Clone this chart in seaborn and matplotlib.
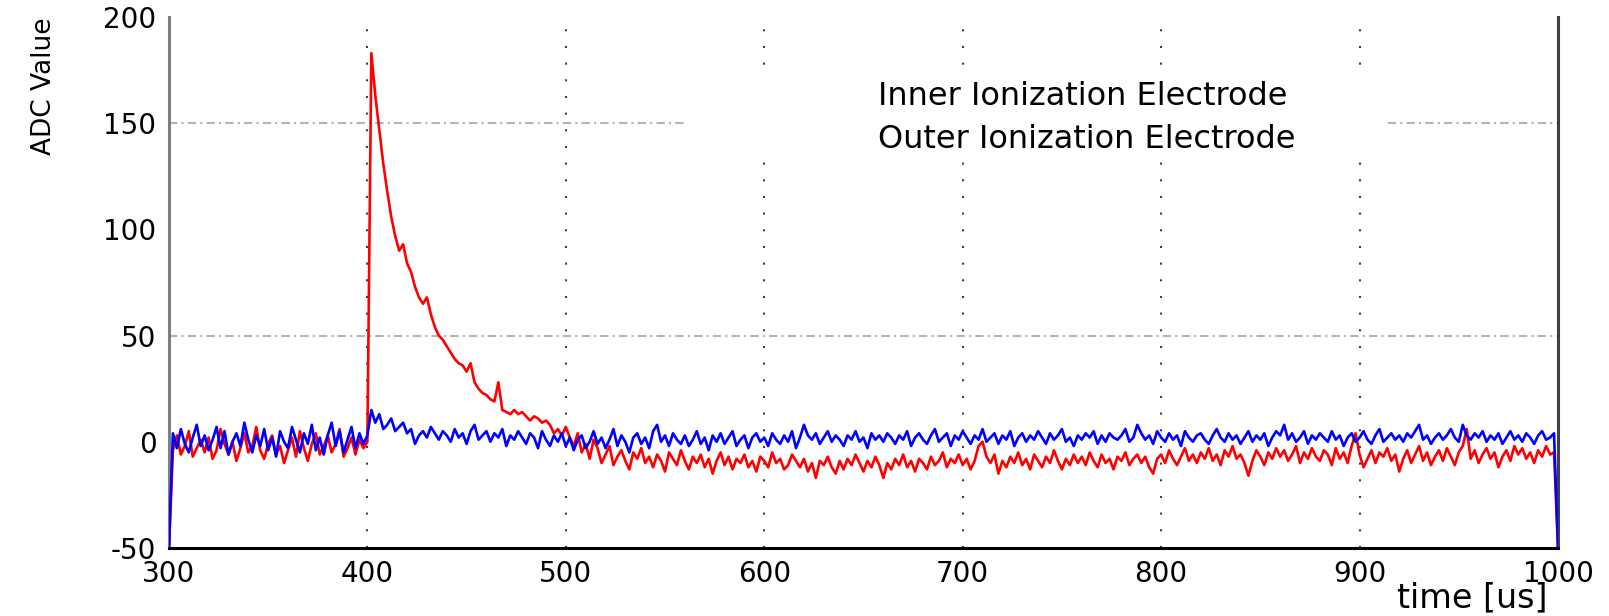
import numpy as np
import pandas as pd
import matplotlib
matplotlib.use("Agg")
import matplotlib.pyplot as plt
from matplotlib.patches import Rectangle
from matplotlib.ticker import MultipleLocator
import seaborn as sns

# Sampling grid of the digitiser (2 us per sample)
time_us = np.arange(300, 1001, 2)

# Inner ionization electrode trace (ADC counts)
inner_adc = [
    -50, -4, 3, -6, -2, 5, -7, -3, 1, -5,
    2, -8, -4, 6, -1, -6, 0, -9, -3, 4,
    -5, -2, 7, -4, -8, -1, 3, -6, -2, -10,
    -4, 2, -7, 5, -3, -9, -1, 4, -6, -2,
    3, -5, -1, 6, -7, -3, 2, -6, 1, -3,
    0, 183, 163, 147, 131, 118, 106, 97, 90, 93,
    84, 80, 73, 68, 65, 68, 60, 54, 50, 48,
    45, 42, 39, 37, 36, 33, 37, 28, 25, 23,
    22, 20, 19, 28, 15, 14, 13, 15, 13, 14,
    12, 10, 12, 11, 9, 10, 8, 4, 6, 3,
    7, 2, -2, 4, -5, -1, -8, 1, -3, -10,
    -6, -2, -11, -7, -4, -9, -13, -5, -8, -3,
    -10, -7, -12, -6, -9, -14, -5, -8, -11, -4,
    -9, -13, -7, -10, -6, -12, -8, -15, -9, -5,
    -11, -7, -13, -8, -10, -6, -12, -9, -14, -7,
    -9, -12, -5, -10, -8, -13, -11, -6, -9, -12,
    -8, -14, -10, -17, -9, -11, -7, -12, -15, -9,
    -13, -8, -11, -6, -10, -14, -9, -12, -7, -11,
    -17, -10, -13, -8, -11, -6, -12, -9, -14, -8,
    -10, -13, -7, -11, -9, -5, -12, -8, -10, -6,
    -11, -8, -13, -9, -2, 0, -7, -10, -6, -15,
    -9, -12, -7, -10, -5, -11, -8, -13, -6, -9,
    -12, -7, -10, -4, -9, -13, -8, -11, -6, -10,
    -7, -11, -5, -9, -12, -6, -10, -8, -13, -7,
    -9, -5, -11, -8, -6, -10, -7, -12, -15, -8,
    -6, -10, -4, -8, -11, -7, -3, -9, -6, -10,
    -5, -8, -3, -9, -6, -11, -4, -7, -2, -8,
    -6, -10, -16, -9, -4, -7, -11, -5, -8, -3,
    -7, -4, -9, -6, -2, -10, -5, -8, -3, -7,
    -9, -4, -6, -11, -3, -8, -5, -10, -2, 4,
    -6, -12, -8, -4, -10, -5, -7, -3, -9, -6,
    -14, -8, -4, -10, -6, -2, -9, -5, -11, -7,
    -4, -9, -3, -7, -11, -5, -2, 6, -8, -4,
    -10, -6, -3, -8, -5, -12, -7, -4, -9, -2,
    -6, -3, -8, -5, -10, -4, -7, -2, -6, -5,
    -50,
]

# Outer ionization electrode trace (ADC counts)
outer_adc = [
    -50, 4, -3, 6, -1, -5, 2, 8, -2, 3,
    -4, 1, 7, -3, 5, -6, 0, 4, -2, 9,
    1, -5, 3, -2, 6, -4, 2, -7, 5, 0,
    -3, 7, 1, -5, 4, -1, 8, -4, 2, -6,
    3, 9, -2, 5, -5, 1, 7, -3, 4, -1,
    3, 15, 9, 13, 6, 8, 11, 5, 7, 9,
    4, 6, -1, 3, 5, 2, 7, 4, 1, 5,
    3, 0, 6, 2, 4, -1, 5, 8, 1, 3,
    5, 0, 4, 2, 6, -2, 3, 1, 5, 2,
    -1, 4, 2, -3, 5, 1, -2, 3, 0, 4,
    -2, 2, -4, 1, 3, -3, 0, 5, -1, 2,
    -3, 1, 6, -2, 3, 0, -5, 2, 4, -1,
    2, -3, 5, 8, 0, 3, -2, 4, 1, -1,
    3, -2, 1, 5, -1, 2, -4, 3, 0, 4,
    -1, 2, 5, -2, 1, 3, -3, 2, 4, 0,
    2, -2, 4, 1, -1, 3, 0, 5, -3, 2,
    8, 3, 1, 4, -1, 2, 5, 0, 3, 1,
    -2, 3, 1, 5, 0, 2, -3, 4, 1, 3,
    0, 4, 2, -1, 3, 1, 5, -2, 2, 4,
    1, -1, 3, 6, 0, 2, 4, -2, 3, 1,
    5, 2, -1, 3, 1, 6, 0, 2, 4, -1,
    3, 1, 5, -2, 2, 4, 0, 3, 1, 5,
    2, -1, 4, 1, 3, 6, 0, 2, -2, 3,
    1, 4, 2, 5, -1, 3, 0, 4, 2, 1,
    3, 6, 0, 2, 8, 4, 1, 3, -1, 5,
    2, 0, 4, 1, 3, -2, 5, 2, 0, 3,
    4, 1, -1, 3, 6, 2, 0, 4, 1, 3,
    -1, 2, 5, 0, 3, 1, 4, -2, 2, 5,
    3, 8, 1, 4, 0, 2, 5, -1, 3, 1,
    4, 2, 0, 5, 1, 3, -2, 2, 4, 0,
    2, 5, 1, -1, 3, 6, 0, 2, 4, 1,
    3, 0, 4, 2, 5, 8, 1, 3, -1, 2,
    4, 1, 3, 6, 2, 0, 8, 3, 1, 4,
    2, 5, 0, 3, 1, 4, -1, 2, 5, 1,
    3, 0, 4, 2, -1, 3, 5, 1, 2, 4,
    -50,
]

series_labels = ["Inner Ionization Electrode", "Outer Ionization Electrode"]
x_ticks = [300, 400, 500, 600, 700, 800, 900, 1000]
y_ticks = [-50, 0, 50, 100, 150, 200]

n = len(time_us)
df = pd.DataFrame({
    "time": np.concatenate([time_us, time_us]),
    "adc": inner_adc + outer_adc,
    "electrode": [series_labels[0]] * n + [series_labels[1]] * n,
})

sns.set_style("white")
plt.rcParams["font.family"] = ["DejaVu Sans"]
plt.rcParams["axes.unicode_minus"] = False
plt.rcParams["text.color"] = "black"
plt.rcParams["axes.labelcolor"] = "black"

fig = plt.figure(figsize=(16.09, 6.16), dpi=100)
ax = fig.add_axes([0.105, 0.1104, 0.8633, 0.862])

sns.lineplot(
    data=df, x="time", y="adc", hue="electrode",
    palette={series_labels[0]: "#ff0000", series_labels[1]: "#0000ff"},
    estimator=None, sort=False, linewidth=1.9, legend=False, ax=ax, zorder=3,
)

ax.set_xlim(300, 1000)
ax.set_ylim(-50, 200)
ax.set_xticks(x_ticks)
ax.set_yticks(y_ticks)
ax.xaxis.set_minor_locator(MultipleLocator(50))
ax.yaxis.set_minor_locator(MultipleLocator(25))

# Dotted vertical grid, dash-dot horizontal guides
ax.grid(axis="x", which="major", color="#404040", linestyle=(0, (1, 7)), linewidth=1.5)
ax.grid(axis="y", visible=False)
for level in (50, 150):
    ax.axhline(level, color="#b4b4b4", linestyle=(0, (4, 2, 1, 2)), linewidth=1.5, zorder=1)

ax.tick_params(axis="both", which="major", direction="in", length=7, width=1.5,
               color="#404040", labelsize=20, pad=9, labelcolor="black")
ax.tick_params(axis="both", which="minor", direction="in", length=4, width=1.5, color="#a0a0a0")

ax.spines["top"].set_visible(False)
ax.spines["left"].set_color("#808080")
ax.spines["left"].set_linewidth(2.2)
ax.spines["bottom"].set_color("black")
ax.spines["bottom"].set_linewidth(2.2)
ax.spines["right"].set_color("#404040")
ax.spines["right"].set_linewidth(2.2)

ax.set_xlabel("time [us]", loc="right", fontsize=24)
ax.xaxis.set_label_coords(0.9928, -0.1243)
ax.xaxis.label.set_verticalalignment("bottom")
ax.set_ylabel("ADC Value", loc="top", fontsize=19)
ax.yaxis.set_label_coords(-0.0806, 1.0)

# Legend area with a plain white background
ax.add_patch(Rectangle((0.371, 0.731), 0.504, 0.16, transform=ax.transAxes,
                       facecolor="white", edgecolor="none", zorder=2.5))
leg = ax.legend(ax.lines[:2], series_labels, loc="upper left",
                bbox_to_anchor=(0.5104, 0.88), frameon=False,
                handlelength=0, handletextpad=0, borderpad=0, borderaxespad=0,
                labelspacing=0.4, fontsize=23)
for h in leg.legend_handles:
    h.set_visible(False)
for t in leg.get_texts():
    t.set_color("black")
leg.set_zorder(5)

fig.savefig("out.png", dpi=100, facecolor="white")
